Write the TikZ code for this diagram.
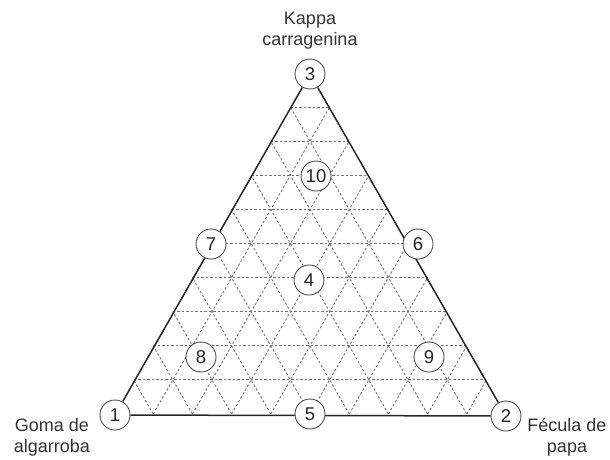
\documentclass[tikz,border=0pt]{standalone}
\usepackage{fontspec}
\setmainfont{Liberation Sans}
\usetikzlibrary{calc,backgrounds}
\begin{document}
\begin{tikzpicture}[x=1pt,y=-1pt,
  pt/.style={circle,draw=black!70,line width=0.9pt,fill=white,minimum size=30pt,inner sep=0pt,font=\fontsize{18.5}{18.5}\selectfont,text=black!85},
  lbl/.style={font=\fontsize{18}{21}\selectfont,text=black!80,align=center},
  edge/.style={line width=1.5pt,black!85},
  gridline/.style={black!55,dash pattern=on 2.5pt off 2pt,line width=0.9pt}]
\useasboundingbox (0,0) rectangle (610,459);
\coordinate (A) at (114,414);
\coordinate (B) at (506,414);
\coordinate (C) at (310,73);
\node[pt] (n1) at (115,415) {1};
\node[pt] (n2) at (506,416) {2};
\node[pt] (n3) at (310,74) {3};
\node[pt] (n4) at (309,280) {4};
\node[pt] (n5) at (310,414) {5};
\node[pt] (n6) at (418,244) {6};
\node[pt] (n7) at (211,244) {7};
\node[pt] (n8) at (201,357) {8};
\node[pt] (n9) at (429,357) {9};
\node[pt] (n10) at (316,176) {10};
\node[lbl] (kappa) at (310,31) {Kappa\\carragenina};
\node[lbl] (goma) at (52,437) {Goma de\\algarroba};
\node[lbl] (fecula) at (567,437) {Fécula de\\papa};
\begin{pgfonlayer}{background}
\foreach \k in {1,...,9} {
  \draw[gridline] ($(A)!\k/10!(C)$) -- ($(B)!\k/10!(C)$);
  \draw[gridline] ($(A)!\k/10!(B)$) -- ($(C)!\k/10!(B)$);
  \draw[gridline] ($(B)!\k/10!(A)$) -- ($(C)!\k/10!(A)$);
}
\draw[edge] (n1) -- (n2);
\draw[edge] (n2) -- (n3);
\draw[edge] (n3) -- (n1);
\end{pgfonlayer}
\end{tikzpicture}
\end{document}
